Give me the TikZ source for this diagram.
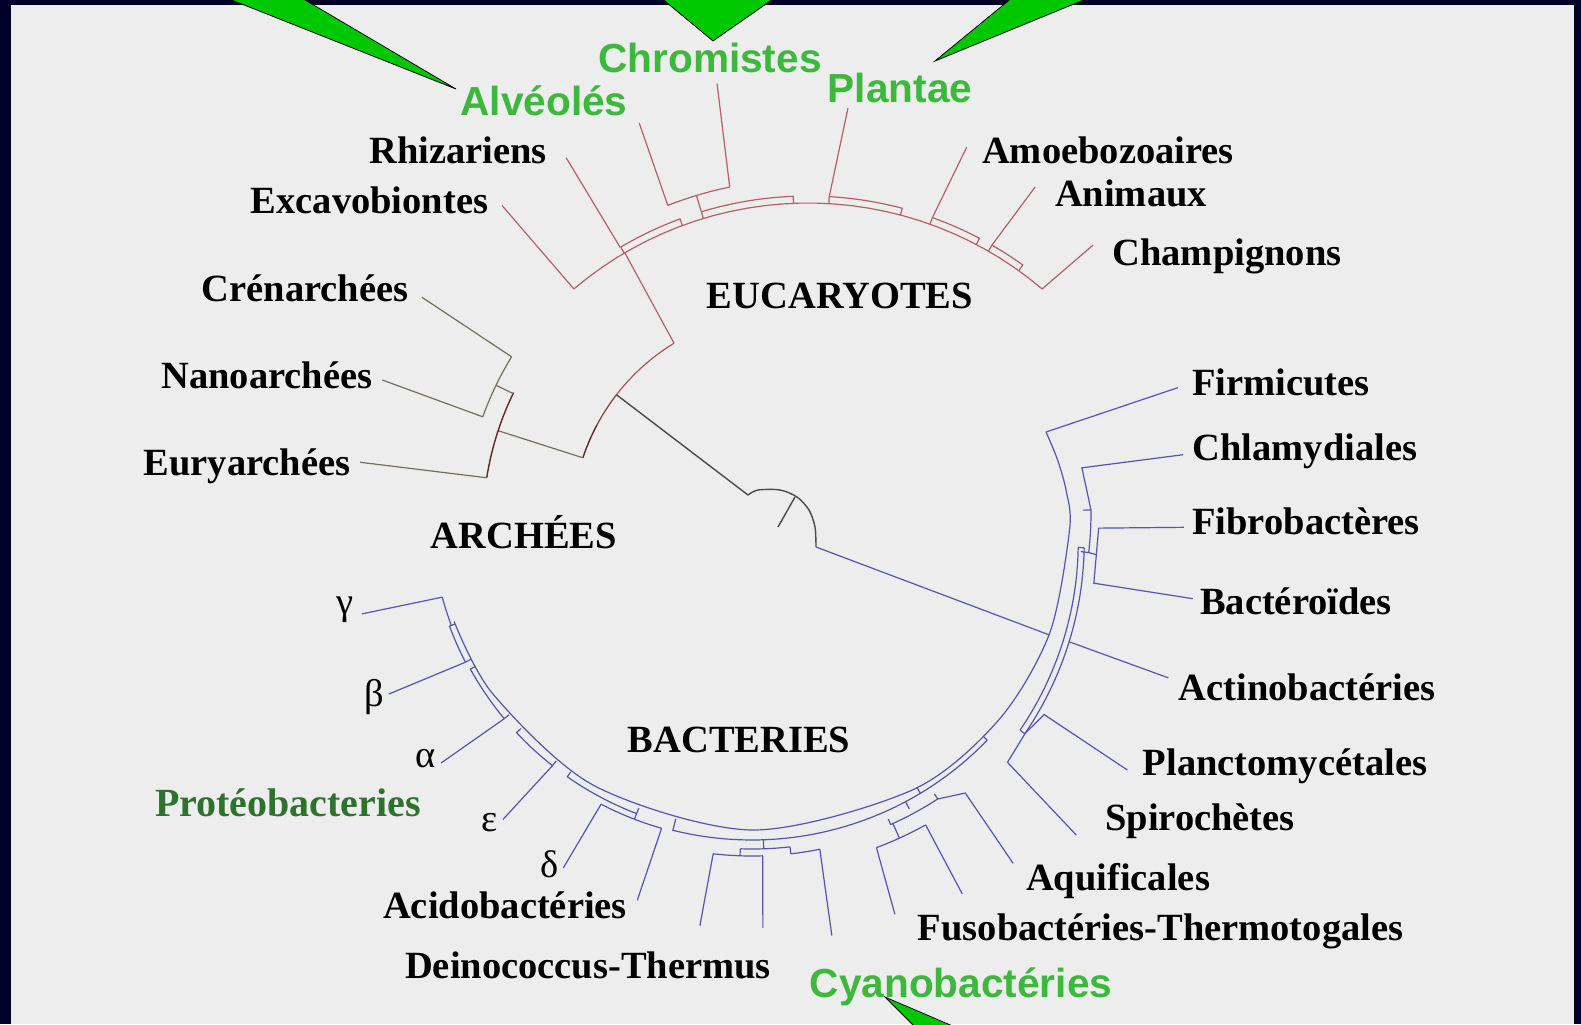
\documentclass[tikz,border=0pt]{standalone}
\usepackage{fontspec}
\setmainfont{Liberation Serif}
\setsansfont{Liberation Sans}
\definecolor{navy}{RGB}{0,0,40}
\definecolor{panel}{RGB}{237,237,237}
\definecolor{tgreen}{RGB}{0,200,0}
\definecolor{lgreen}{RGB}{60,185,60}
\definecolor{dgreen}{RGB}{45,115,45}
\definecolor{euc}{RGB}{180,95,105}
\definecolor{aered}{RGB}{180,80,90}
\definecolor{aemid}{RGB}{140,60,65}
\definecolor{ardark}{RGB}{95,40,40}
\definecolor{argray}{RGB}{115,110,95}
\definecolor{rootg}{RGB}{75,75,75}
\definecolor{bacc}{RGB}{85,85,175}
\newcommand\myarc[4]{\draw[#1] plot[domain=#2:#3,samples=30] (\x:#4);}
\newcommand\mystrip[5]{\draw[#1] (#2:#4) -- (#2:#5) plot[domain=#2:#3,samples=24] (\x:#5) -- (#3:#4);}
\begin{document}
\begin{tikzpicture}[x=0.5pt,y=-0.5pt,
  eu/.style={draw=euc,line width=0.6pt},
  ba/.style={draw=bacc,line width=0.6pt},
  aer/.style={draw=aered,line width=0.6pt},
  aem/.style={draw=aemid,line width=0.6pt},
  ard/.style={draw=ardark,line width=0.7pt},
  arg/.style={draw=argray,line width=0.6pt},
  rootl/.style={draw=rootg,line width=0.7pt},
  lab/.style={font=\fontsize{19.25}{22}\selectfont\bfseries,text=black,inner sep=0pt,anchor=base},
  greek/.style={font=\fontsize{19.25}{22}\selectfont,text=black,inner sep=0pt,anchor=base},
  glab/.style={font=\fontsize{20.3}{24}\selectfont\sffamily\bfseries,text=lgreen,inner sep=0pt,anchor=base},
  callout/.style={fill=tgreen,draw=black,line width=0.4pt,line join=miter}]
\clip (0,0) rectangle (1581,1024);
\fill[navy] (0,0) rectangle (1581,1024);
\fill[panel] (11,5) rectangle (1574,1024);

% ---------- EUCARYOTES ----------
\begin{scope}[shift={(808,565)}]
  \myarc{eu}{-130.3}{-49.7}{362}
  \draw[eu] (-130.3:362) -- (-130.4:472);
  \coordinate (eustem) at (-120.4:362);
  \mystrip{eu}{-120.5}{-110.3}{362}{369}
  \draw[eu] (-120.6:369) -- (-120.7:473.5);
  \mystrip{eu}{-106.8}{-92.3}{362}{369}
  \draw[eu] (-106.8:369) -- (-106.8:386);
  \myarc{eu}{-111.3}{-101.7}{386}
  \draw[eu] (-111.3:386) -- (-110.9:473);
  \draw[eu] (-101.7:386) -- (-100.7:490);
  \mystrip{eu}{-86.7}{-75.2}{362}{369}
  \draw[eu] (-86.7:369) -- (-85:458.7);
  \mystrip{eu}{-70.3}{-62.3}{362}{369}
  \draw[eu] (-70.3:369) -- (-69.2:447);
  \mystrip{eu}{-60.1}{-54.4}{362}{369}
  \draw[eu] (-60.1:369) -- (-59:441);
  \draw[eu] (-49.7:362) -- (-48.3:428.5);
\end{scope}

% ---------- ARCHEES + root ----------
\begin{scope}[shift={(785,525)}]
  \coordinate (aetop) at (-121.4:213);
  \myarc{aer}{-142.3}{-121.4}{213}
  \myarc{aem}{-152}{-142.3}{213}
  \myarc{ard}{-161.6}{-152}{213}
  \coordinate (aeroot) at (-142.3:213);
  \draw[arg] (-161.6:213) -- (-161.8:302);
  \myarc{ard}{-171}{-154}{302}
  \draw[arg] (-154.2:302) -- (-154.2:321);
  \myarc{arg}{-160.3}{-148.4}{321}
  \draw[arg] (-148.4:321) -- (-147.9:428.7);
  \draw[arg] (-160.3:321) -- (-160.2:428);
  \draw[arg] (-171:302) -- (-171.6:429.6);
\end{scope}
\draw[eu] (eustem) -- (aetop);
\coordinate (bumpA) at (748,495);
\coordinate (bumpB) at (816,547);
\draw[rootl] (aeroot) -- (bumpA);
\draw[rootl] plot[smooth] coordinates {(748,495) (758,490) (780,490) (797,497) (809,510) (815,527) (816,547)};
\draw[rootl] (795,497) -- (778,527);

% ---------- BACTERIES ----------
\begin{scope}[shift={(752,513)}]
  \coordinate (bstem) at (22.3:321);
  \draw[ba] plot[smooth] coordinates {(-15.4:305) (-10:310) (-4:315) (3:318) (22:321) (40:322) (60:320) (90:317) (120:315) (145:316) (160:317)};
  \draw[ba] (-15.4:305) -- (-16.4:444);
  \draw[ba] (-7.7:435) -- (-7.8:333) -- (-0.5:339);
  \mystrip{ba}{-0.5}{6.7}{331}{339}
  \draw[ba] (6.7:339) -- (6.9:347);
  \draw[ba] (1.9:432) -- (2.5:347) -- (11.6:349) -- (11.0:449);
  \draw[ba] (6:328) -- (6:334) plot[domain=6:39,samples=30] (\x:{334+0.515*(\x-6)}) -- (39:345);
  \draw[ba] plot[domain=6:39,samples=30] (\x:{328+0.515*(\x-6)});
  \draw[ba] (22.1:342) -- (21.6:448);
  \draw[ba] (34.4:455) -- (34.6:355) -- (38.9:351) -- (44.3:357) -- (44.8:457);
  \draw[ba] (44:321) -- (44:327) plot[domain=44:104,samples=40] (\x:327) -- (104:315);
  \draw[ba] (59:320) -- (59:327);
  \mystrip{ba}{57}{66}{335}{341}
  \draw[ba] (62:327) -- (62:335);
  \draw[ba] (65.6:341) -- (65.6:357);
  \myarc{ba}{60.9}{69.6}{357}
  \draw[ba] (60.9:357) -- (61.1:435);
  \draw[ba] (69.6:357) -- (70.4:426);
  \draw[ba] (57:341) -- (52.7:352) -- (53.3:437);
  \draw[ba] (88:327) -- (88:336);
  \myarc{ba}{83.5}{92}{336}
  \draw[ba] (92:336) -- (92:343);
  \myarc{ba}{88.2}{96.5}{343}
  \draw[ba] (88.2:343) -- (88.5:415);
  \draw[ba] (96.5:343) -- (97.2:416);
  \draw[ba] (83.5:336) -- (83.5:343);
  \myarc{ba}{78.6}{83.5}{343}
  \draw[ba] (78.6:343) -- (79.3:430);
  \mystrip{ba}{111}{125}{316}{322}
  \draw[ba] (111:322) -- (111:328);
  \myarc{ba}{106}{117.4}{328}
  \draw[ba] (117.4:328) -- (118:402);
  \draw[ba] (106:328) -- (106.5:404);
  \mystrip{ba}{128.3}{137}{316}{322}
  \draw[ba] (128.3:322) -- (129.1:395);
  \mystrip{ba}{140.3}{151}{316}{322}
  \draw[ba] (140.3:322) -- (141.2:399);
  \mystrip{ba}{152.5}{159.5}{317}{323}
  \draw[ba] (152.5:323) -- (153.5:406);
  \myarc{ba}{159.5}{164.8}{321}
  \draw[ba] (164.8:321) -- (165.5:403);
\end{scope}
\draw[ba] (bumpB) -- (bstem);

% ---------- callouts ----------
\coordinate (t1) at (456,89);
\coordinate (t2) at (713,41);
\coordinate (t3) at (935,61);
\coordinate (t4) at (885,997);
\filldraw[callout] (224,-3) -- (300,-3) -- (t1) -- cycle;
\filldraw[callout] (660,-3) -- (776,-3) -- (t2) -- cycle;
\filldraw[callout] (1013,-3) -- (1091,-3) -- (t3) -- cycle;
\filldraw[callout] (t4) -- (962,1030) -- (918,1030) -- cycle;

% ---------- labels ----------
\node[glab] (alv) at (544,115) {Alvéolés};
\node[glab] (chr) at (710,72) {Chromistes};
\node[glab] (pla) at (900,102) {Plantae};
\node[glab] (cya) at (961,997) {Cyanobactéries};
\node[lab] (rhi) at (458,163) {Rhizariens};
\node[lab] (exc) at (369.5,213) {Excavobiontes};
\node[lab] (amo) at (1108,163) {Amoebozoaires};
\node[lab] (ani) at (1131,206) {Animaux};
\node[lab] (cha) at (1227,265) {Champignons};
\node[lab] (euk) at (840,308) {EUCARYOTES};
\node[lab] (cre) at (305,301) {Crénarchées};
\node[lab] (nan) at (267,388) {Nanoarchées};
\node[lab] (eur) at (247,475) {Euryarchées};
\node[lab] (arc) at (524,548) {ARCHÉES};
\node[lab] (fir) at (1281,395) {Firmicutes};
\node[lab] (chl) at (1305,460) {Chlamydiales};
\node[lab] (fib) at (1306,534) {Fibrobactères};
\node[lab] (bct) at (1296,614) {Bactéroïdes};
\node[lab] (act) at (1307,700) {Actinobactéries};
\node[lab] (plc) at (1285,775) {Planctomycétales};
\node[lab] (spi) at (1200,830) {Spirochètes};
\node[lab] (aqu) at (1118,890) {Aquificales};
\node[lab] (fus) at (1160.6,940) {Fusobactéries-Thermotogales};
\node[lab] (dei) at (588,978) {Deinococcus-Thermus};
\node[lab] (aci) at (505,918) {Acidobactéries};
\node[lab] (bac) at (739,752) {BACTERIES};
\node[lab,text=dgreen,font=\fontsize{20}{22}\selectfont\bfseries] (pro) at (288,816) {Protéobacteries};
\node[greek] (gam) at (345,614) {γ};
\node[greek] (bet) at (374,706) {β};
\node[greek] (alp) at (426,767) {α};
\node[greek] (eps) at (490,831) {ε};
\node[greek] (del) at (550,877) {δ};
\end{tikzpicture}
\end{document}
